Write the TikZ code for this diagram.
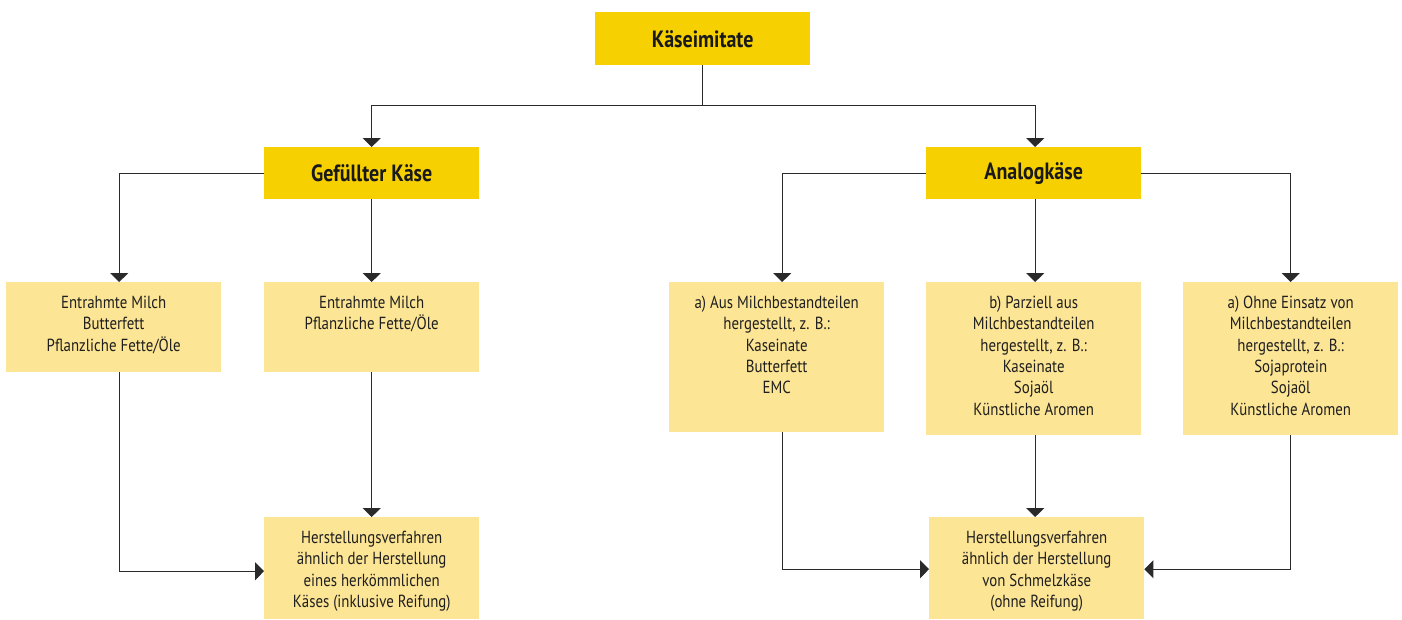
\documentclass[tikz,border=0pt]{standalone}
\usepackage{fontspec}
\setmainfont{PT Sans}[FakeStretch=0.85]
\usetikzlibrary{arrows.meta}
\definecolor{darkyel}{HTML}{F6D000}
\definecolor{lightyel}{HTML}{FCE594}
\definecolor{linecol}{HTML}{2A2A2A}
\tikzset{
  titlebox/.style={fill=darkyel, draw=none, minimum width=215pt, minimum height=53pt, inner sep=0pt, anchor=north west, font=\bfseries\fontsize{23.5}{26}\selectfont, text=black!90},
  infobox/.style={fill=lightyel, draw=none, minimum width=215pt, inner sep=0pt, anchor=north west},
  infotext/.style={align=center, anchor=north, inner sep=0pt, font=\fontsize{17.5}{21.3}\selectfont, text=black!88},
  conn/.style={draw=linecol, line width=1.1pt},
  arr/.style={conn, -{Triangle[width=18pt,length=9pt]}},
}
\begin{document}
\begin{tikzpicture}[x=1pt,y=-1pt]
\useasboundingbox (0,0) rectangle (1402,619);
% title boxes
\node[titlebox] (kase) at (595,12) {Käseimitate};
\node[titlebox, minimum height=52pt] (gef) at (264,147) {Gefüllter Käse};
\node[titlebox, minimum height=52pt] (ana) at (926,147) {Analogkäse};
% info boxes
\node[infobox, minimum height=90pt] (l1) at (6,282) {};
\node[infobox, minimum height=90pt] (l2) at (264,282) {};
\node[infobox, minimum height=102pt] (l3) at (264,517) {};
\node[infobox, minimum height=150pt] (ma) at (669,282) {};
\node[infobox, minimum height=153pt] (mb) at (926,282) {};
\node[infobox, minimum height=153pt] (mc) at (1183,282) {};
\node[infobox, minimum height=102pt] (r3) at (929,517) {};
% texts
\node[infotext] (t1) at ([yshift=-14pt]l1.north) {Entrahmte Milch\\Butterfett\\Pflanzliche Fette/Öle};
\node[infotext] (t2) at ([yshift=-14pt]l2.north) {Entrahmte Milch\\Pflanzliche Fette/Öle};
\node[infotext] (t3) at ([yshift=-14pt]l3.north) {Herstellungsverfahren\\ähnlich der Herstellung\\eines herkömmlichen\\Käses (inklusive Reifung)};
\node[infotext] (ta) at ([yshift=-14pt]ma.north) {a) Aus Milchbestandteilen\\hergestellt, z. B.:\\Kaseinate\\Butterfett\\EMC};
\node[infotext] (tb) at ([yshift=-14pt]mb.north) {b) Parziell aus\\Milchbestandteilen\\hergestellt, z. B.:\\Kaseinate\\Sojaöl\\Künstliche Aromen};
\node[infotext] (tc) at ([yshift=-14pt]mc.north) {a) Ohne Einsatz von\\Milchbestandteilen\\hergestellt, z. B.:\\Sojaprotein\\Sojaöl\\Künstliche Aromen};
\node[infotext] (tr) at ([yshift=-14pt]r3.north) {Herstellungsverfahren\\ähnlich der Herstellung\\von Schmelzkäse\\(ohne Reifung)};
% connectors
\coordinate (j) at ([yshift=-40pt]kase.south);
\draw[conn] (kase.south) -- (j);
\draw[arr] (j) -| (gef.north);
\draw[arr] (j) -| ([xshift=1.5pt]ana.north);
\draw[arr] (gef.west) -| ([xshift=5.5pt]l1.north);
\draw[arr] (gef.south) -- (l2.north);
\draw[arr] ([xshift=5.5pt]l1.south) |- ([yshift=-3pt]l3.west);
\draw[arr] (l2.south) -- (l3.north);
\draw[arr] (ana.west) -| ([xshift=5.5pt]ma.north);
\draw[arr] ([xshift=1.5pt]ana.south) -- ([xshift=1.5pt]mb.north);
\draw[arr] (ana.east) -| (mc.north);
\draw[arr] ([xshift=5.5pt]ma.south) |- ([yshift=-1pt]r3.west);
\draw[arr] ([xshift=1.5pt]mb.south) -- ([xshift=-1.5pt]r3.north);
\draw[arr] (mc.south) |- ([yshift=-1pt]r3.east);
\end{tikzpicture}
\end{document}
